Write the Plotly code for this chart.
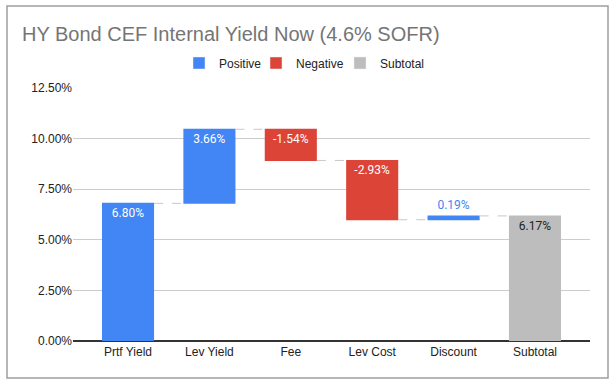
import plotly.graph_objects as go

categories = ["Prtf Yield", "Lev Yield", "Fee", "Lev Cost", "Discount", "Subtotal"]
values = [6.80, 3.66, -1.54, -2.93, 0.19, 6.17]
measures = ["relative", "relative", "relative", "relative", "relative", "absolute"]
labels = ["6.80%", "3.66%", "-1.54%", "-2.93%", "0.19%", "6.17%"]
legend_names = ["Positive", "Negative", "Subtotal"]
y_ticks = [0, 2.5, 5, 7.5, 10, 12.5]
y_tick_labels = ["0.00%", "2.50%", "5.00%", "7.50%", "10.00%", "12.50%"]

BLUE = "#4285F4"
RED = "#DB4437"
GRAY = "#BDBDBD"

text_pos = ["inside", "inside", "inside", "inside", "outside", "inside"]
text_col = ["white", "white", "white", "white", BLUE, "#222222"]

# labels of rising / total bars anchored at bar end (top); falling bars anchored at start (top)
rise_text = [t if (v >= 0 or m == "absolute") else "" for t, v, m in zip(labels, values, measures)]
fall_text = [t if (v < 0 and m != "absolute") else "" for t, v, m in zip(labels, values, measures)]

fig = go.Figure()
fig.add_trace(go.Waterfall(
    x=categories, y=values, measure=measures,
    text=rise_text, textposition=text_pos, insidetextanchor="end",
    textangle=0, constraintext="none",
    textfont=dict(family="Roboto, Arial", size=12, color=text_col),
    increasing=dict(marker=dict(color=BLUE)),
    decreasing=dict(marker=dict(color=RED)),
    totals=dict(marker=dict(color=GRAY)),
    connector=dict(line=dict(color="#C8C8C8", width=1, dash="dash")),
    width=0.64, showlegend=False, cliponaxis=False, hoverinfo="x+y",
))
fig.add_trace(go.Waterfall(
    x=categories, y=values, measure=measures,
    text=fall_text, textposition="inside", insidetextanchor="start",
    textangle=0, constraintext="none",
    textfont=dict(family="Roboto, Arial", size=12, color="white"),
    increasing=dict(marker=dict(color="rgba(0,0,0,0)")),
    decreasing=dict(marker=dict(color="rgba(0,0,0,0)")),
    totals=dict(marker=dict(color="rgba(0,0,0,0)")),
    connector=dict(visible=False),
    width=0.64, showlegend=False, cliponaxis=False, hoverinfo="skip",
))
legend_keys = ["legend", "legend2", "legend3"]
legend_x = [179, 256, 340]
for name, col, key in zip(legend_names, [BLUE, RED, GRAY], legend_keys):
    fig.add_trace(go.Bar(x=[categories[0]], y=[None], name=name, marker_color=col,
                         showlegend=True, legend=key))

fig.add_shape(type="rect", xref="paper", yref="paper",
              x0=(7 - 73) / 517, x1=(608 - 73) / 517,
              y0=(341 - 378) / 253, y1=(341 - 6) / 253,
              line=dict(color="#9E9E9E", width=1.5), fillcolor="rgba(0,0,0,0)", layer="below")

legend_common = dict(orientation="h", xref="container", xanchor="left",
                     y=(341 - 63) / 253, yref="paper", yanchor="middle",
                     font=dict(size=12, color="#222222"), bgcolor="rgba(0,0,0,0)")
legends = {key: dict(legend_common, x=px / 612) for key, px in zip(legend_keys, legend_x)}

fig.update_layout(
    width=612, height=386,
    margin=dict(l=73, r=22, t=88, b=45, autoexpand=False),
    paper_bgcolor="white", plot_bgcolor="white",
    font=dict(family="Arial, Liberation Sans", size=12, color="#222222"),
    title=dict(text="HY Bond CEF Internal Yield Now (4.6% SOFR)", x=22 / 612, xref="container",
               xanchor="left", y=1 - 34 / 386, yanchor="middle",
               font=dict(family="Arial, Liberation Sans", size=20, color="#757575")),
    barmode="overlay", waterfallmode="overlay",
    xaxis=dict(showgrid=False, showline=True, linecolor="#333333", ticks="",
               range=[-0.676, 5.676],
               tickfont=dict(size=12, color="#222222"), tickangle=0),
    yaxis=dict(range=[0, 12.5], tickvals=y_ticks, ticktext=y_tick_labels,
               showgrid=True, gridcolor="#CCCCCC", zeroline=True, zerolinecolor="#333333",
               ticks="", tickfont=dict(size=12, color="#222222")),
    **legends,
)

fig.write_html("out.html", config={"displayModeBar": False},
               post_script="document.body.style.margin='0px';document.body.style.overflow='hidden';")
